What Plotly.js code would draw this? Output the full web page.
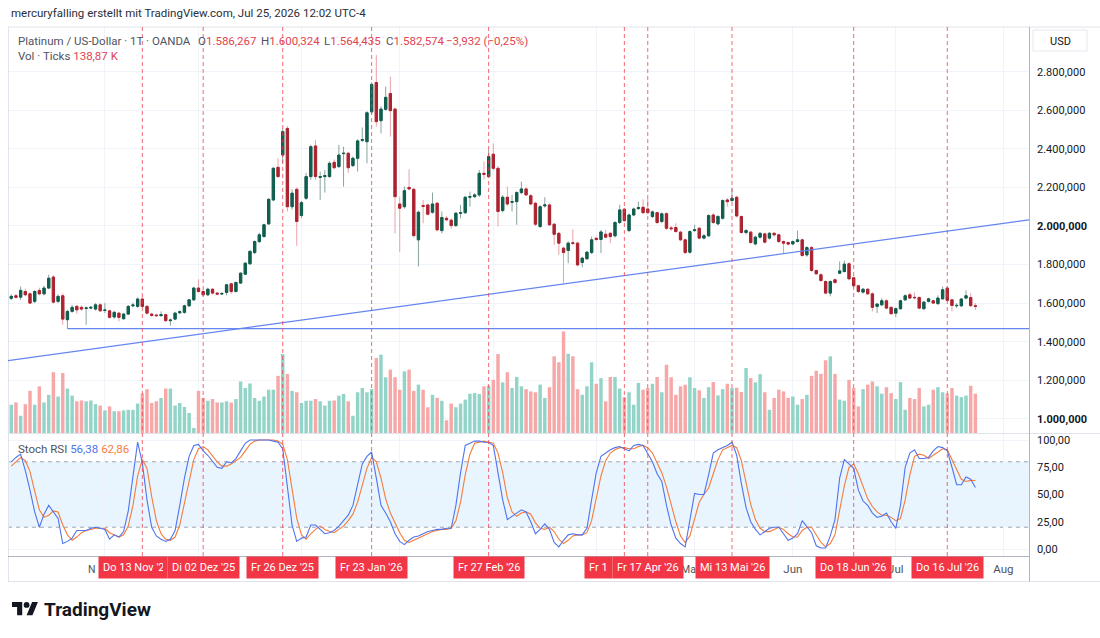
<!DOCTYPE html>
<html>
<head>
<meta charset="utf-8">
<script src="https://cdn.plot.ly/plotly-3.0.1.min.js"></script>
<style>
  html, body { margin: 0; padding: 0; background: #ffffff; }
  #chart { width: 1100px; height: 638px; }
</style>
</head>
<body>
<div id="chart"></div>
<script>
// Platinum / US-Dollar, daily candles (OANDA), Oct 2025 – Jul 2026
const firstSession = '2025-10-06';
const marketHolidays = ['2025-12-25', '2026-01-01', '2026-04-03'];

const openPx = [
  1625,1638,1631,1660,1648,1609,1666,1648,1678,1735,
  1609,1638,1514,1557,1583,1578,1572,1574,1569,1591,
  1562,1560,1528,1548,1519,1543,1586,1583,1621,1583,
  1543,1538,1535,1540,1509,1517,1550,1552,1586,1617,
  1678,1660,1643,1672,1652,1647,1655,1700,1660,1704,
  1750,1804,1862,1919,1945,2011,2135,2304,2368,2506,
  2100,2190,2054,2144,2256,2415,2252,2256,2256,2330,
  2308,2375,2377,2313,2351,2444,2437,2592,2744,2546,
  2605,2687,2606,2114,2100,2200,2190,1928,2106,2109,
  2071,2118,1976,2040,2030,2002,2066,2069,2149,2152,
  2161,2273,2256,2372,2299,2080,2149,2123,2126,2173,
  2192,2157,2118,1997,2104,2109,2009,1962,1885,1873,
  1913,1911,1811,1830,1862,1936,1930,1957,1962,1949,
  2018,2087,1976,2057,2090,2097,2088,2049,2069,2023,
  2064,1990,1992,1968,1928,1864,1976,1988,1937,1949,
  2057,2011,2040,2135,2132,2149,2049,1966,1968,1907,
  1942,1959,1937,1962,1954,1919,1914,1907,1919,1928,
  1850,1888,1769,1747,1712,1652,1721,1755,1764,1804,
  1731,1690,1657,1672,1648,1583,1591,1612,1578,1548,
  1571,1617,1643,1630,1629,1571,1609,1612,1597,1622,
  1678,1617,1586,1586,1626,1629,1586.267
];
const highPx = [
  1645,1648,1686,1675,1655,1668,1680,1690,1747,1745,
  1645,1650,1565,1590,1591,1588,1582,1585,1600,1600,
  1600,1566,1560,1555,1550,1590,1602,1630,1634,1590,
  1550,1545,1557,1545,1520,1555,1562,1592,1622,1684,
  1724,1668,1680,1678,1658,1656,1700,1705,1712,1760,
  1812,1875,1925,1965,2012,2145,2305,2351,2505,2518,
  2190,2200,2130,2275,2420,2446,2282,2290,2335,2345,
  2420,2411,2385,2360,2450,2511,2595,2745,2886,2620,
  2722,2774,2615,2152,2204,2294,2198,2080,2135,2115,
  2173,2125,2075,2050,2038,2072,2109,2155,2178,2170,
  2290,2334,2394,2428,2310,2160,2204,2161,2180,2230,
  2200,2165,2125,2108,2149,2118,2015,1968,1892,1920,
  1983,1918,1840,1870,1945,1945,1978,1980,1970,2025,
  2110,2095,2065,2095,2126,2138,2140,2080,2075,2070,
  2070,2000,2014,1975,1935,1978,2006,1995,1958,2060,
  2065,2057,2138,2145,2195,2157,2055,1985,1975,1950,
  1968,1965,1968,1968,1960,1925,1920,1925,1976,1935,
  1895,1895,1775,1755,1718,1718,1728,1816,1821,1812,
  1738,1695,1678,1678,1655,1600,1625,1620,1583,1578,
  1618,1645,1655,1655,1635,1610,1628,1618,1640,1686,
  1685,1622,1600,1626,1666,1652,1600.324
];
const lowPx = [
  1615,1622,1617,1635,1595,1600,1640,1640,1672,1598,
  1600,1488,1468,1550,1545,1560,1488,1568,1562,1555,
  1548,1520,1520,1505,1515,1538,1578,1576,1578,1540,
  1530,1528,1530,1502,1483,1512,1543,1545,1580,1612,
  1652,1635,1636,1645,1640,1642,1640,1648,1655,1700,
  1745,1798,1855,1912,1940,2005,2128,2250,2325,2075,
  2085,1897,2040,2135,2240,2240,2135,2173,2250,2295,
  2300,2204,2275,2305,2282,2435,2325,2580,2515,2480,
  2598,2463,1962,1864,2090,2185,1940,1790,2014,2055,
  2064,1972,1962,2025,1985,1995,2040,2062,2100,2145,
  2150,2240,2250,2290,1997,2070,2105,2075,2006,2165,
  2155,2108,2000,1990,2095,2000,1902,1850,1704,1807,
  1902,1790,1785,1825,1855,1920,1859,1935,1911,1940,
  2010,2020,1968,2050,2085,2062,2060,2040,2010,2015,
  1980,1975,1965,1922,1855,1856,1970,1930,1930,1943,
  2010,2004,2033,2100,2125,2045,1960,1955,1908,1900,
  1935,1910,1930,1945,1912,1859,1900,1900,1915,1840,
  1840,1762,1745,1710,1645,1635,1700,1750,1758,1718,
  1683,1652,1650,1643,1557,1548,1585,1567,1540,1527,
  1565,1610,1620,1620,1568,1565,1603,1595,1592,1618,
  1608,1557,1574,1580,1620,1582,1564.435
];
const closePx = [
  1635,1630,1666,1643,1600,1660,1648,1678,1729,1605,
  1635,1517,1557,1578,1565,1569,1575,1578,1591,1560,
  1564,1526,1552,1526,1543,1583,1590,1621,1583,1548,
  1536,1535,1540,1509,1512,1548,1555,1586,1617,1678,
  1660,1643,1672,1652,1647,1650,1695,1660,1707,1755,
  1807,1868,1919,1954,2006,2138,2299,2256,2489,2100,
  2170,2023,2121,2256,2411,2256,2256,2261,2325,2302,
  2368,2377,2302,2351,2441,2448,2587,2734,2541,2606,
  2667,2598,2152,2092,2183,2192,1950,2071,2102,2061,
  2114,1980,2044,2032,2002,2066,2069,2149,2152,2161,
  2273,2268,2360,2299,2075,2149,2114,2126,2173,2192,
  2161,2114,2009,2100,2109,2006,1957,1911,1862,1911,
  1909,1798,1833,1864,1928,1930,1969,1942,1945,2018,
  2083,2028,2057,2088,2095,2069,2069,2073,2018,2063,
  1988,1986,1971,1928,1862,1971,1980,1937,1949,2054,
  2018,2049,2132,2126,2144,2052,1966,1976,1914,1942,
  1962,1916,1962,1954,1919,1911,1906,1919,1928,1847,
  1888,1769,1752,1717,1652,1712,1707,1767,1802,1726,
  1690,1660,1672,1648,1578,1595,1612,1574,1545,1571,
  1612,1638,1626,1628,1574,1605,1622,1600,1626,1669,
  1614,1588,1588,1621,1638,1586.506,1582.574
];
// tick volume, thousands
const volumeK = [
  100,108,61,102,149,100,165,108,135,215,
  129,212,157,132,112,115,112,115,102,97,
  80,94,77,77,80,82,82,104,139,155,
  106,112,124,157,157,97,106,92,71,18,
  149,124,114,120,108,108,112,108,120,182,
  159,175,124,114,129,153,153,202,279,209,
  149,144,106,114,114,120,112,97,114,115,
  132,138,112,61,144,159,144,155,265,277,
  197,224,197,153,218,224,149,171,153,91,
  135,124,114,45,104,91,104,118,139,141,
  138,165,167,188,279,179,215,159,198,165,
  155,147,144,171,124,162,271,250,359,280,
  271,155,135,165,250,174,194,112,198,198,
  157,127,144,100,177,153,159,174,198,144,
  241,197,135,165,171,197,159,151,124,162,
  180,133,155,174,159,160,145,230,194,179,
  208,144,82,124,153,147,124,129,100,120,
  135,202,220,209,257,271,209,118,114,188,
  159,94,155,171,182,165,139,162,141,120,
  180,82,124,120,159,94,100,153,162,144,
  139,159,132,127,132,167,138.87
];
const stochK = [
  80,84,87,72,54,34,20,32,40,34,
  28,5,7,10,17,17,17,19,20,19,
  18,9,13,11,16,35,68,98,79,45,
  20,12,9,7,9,17,40,65,85,95,
  96,90,86,80,75,74,80,79,83,90,
  97,100,100,100,100,100,99,98,92,55,
  22,7,10,11,22,22,18,14,15,17,
  21,26,31,40,58,78,85,89,65,40,
  33,25,14,7,4,8,11,12,14,16,
  17,18,18,19,19,40,70,95,97,99,
  99,98,98,95,70,45,27,30,33,36,
  34,25,14,18,23,18,6,2,8,13,
  14,13,13,19,45,70,85,88,91,93,
  94,92,90,95,96,95,88,80,69,62,
  40,22,10,5,2,28,51,50,50,68,
  88,91,93,95,98,86,60,38,25,18,
  13,16,19,20,20,14,8,10,14,26,
  20,15,3,1,1,12,27,65,82,78,
  74,54,44,40,33,29,30,33,25,19,
  40,75,88,91,83,83,84,90,94,93,
  90,75,59,59,66,64,56.38
];
const stochD = [
  76,80,84,81,71,53,36,29,31,35,
  34,22,13,8,11,15,17,18,19,19,
  19,15,13,11,13,21,40,67,82,74,
  48,26,14,9,8,11,22,41,63,82,
  92,94,91,85,80,76,76,78,81,84,
  90,96,99,100,100,100,100,99,96,82,
  56,28,13,9,14,18,21,18,16,15,
  18,21,26,32,43,59,74,84,80,65,
  46,33,24,15,8,6,8,10,12,14,
  16,17,18,18,19,26,43,68,87,97,
  98,99,98,97,88,70,47,34,30,33,
  34,32,24,19,18,20,16,9,5,8,
  12,13,13,15,26,45,67,81,88,91,
  93,93,92,92,94,95,93,88,79,70,
  57,41,25,12,6,12,27,43,50,56,
  69,82,91,93,95,93,81,61,41,27,
  19,16,16,18,20,18,14,11,11,17,
  20,20,13,6,2,5,13,35,58,75,
  78,69,57,46,39,34,31,31,29,26,
  28,45,68,85,87,86,83,86,89,92,
  91,82,72,64,62,63,62.86
];

// marked sessions (dashed verticals + date flags on the time axis)
const markerDates = ['2025-11-13','2025-12-02','2025-12-26','2026-01-23','2026-02-27',
                     '2026-04-10','2026-04-17','2026-05-13','2026-06-18','2026-07-16'];
// flags that sit partly under their right-hand neighbour keep only the visible part
const markerLabels = ["Do 13 Nov '2","Di 02 Dez '25","Fr 26 Dez '25","Fr 23 Jan '26","Fr 27 Feb '26",
                      "Fr 1","Fr 17 Apr '26","Mi 13 Mai '26","Do 18 Jun '26","Do 16 Jul '26"];
const tuckedFlags = { 0: 60, 5: 19 };   // flag index -> text width in px

// month starts on the time scale; months mostly hidden behind flags show only their visible part
const monthTicks = ['2025-11-03','2025-12-01','2026-01-02','2026-02-02','2026-03-02',
                    '2026-04-01','2026-05-01','2026-06-01','2026-07-01','2026-08-03'];
const monthNames = ['','','','','','','','Jun','Jul','Aug'];
const peekingMonths = [['N', 97], ['Ma', 696.5]];   // text, right edge (px)

const priceTicks = [1000,1200,1400,1600,1800,2000,2200,2400,2600,2800];
const stochTicks = [0,25,50,75,100];

// drawn lines: horizontal support and rising trend line
const supportLine = { from: '2025-10-22', price: 1468 };
const risingLine = [['2025-10-03 07:12', 1302], ['2026-08-10 11:02', 2032]];

const xRange = ['2025-10-03 07:12', '2026-08-10 11:02'];

// ---------------------------------------------------------------
function tradingDays(start, n, holidays) {
  const out = [];
  const d = new Date(start + 'T00:00:00Z');
  while (out.length < n) {
    const wd = d.getUTCDay();
    const iso = d.toISOString().slice(0, 10);
    if (wd !== 0 && wd !== 6 && holidays.indexOf(iso) < 0) out.push(iso);
    d.setUTCDate(d.getUTCDate() + 1);
  }
  return out;
}
function fmtDE(v, dec) {
  const neg = v < 0;
  const parts = Math.abs(v).toFixed(dec).split('.');
  const ip = parts[0].replace(/\B(?=(\d{3})+(?!\d))/g, '.');
  return (neg ? '\u2212' : '') + ip + (parts[1] ? ',' + parts[1] : '');
}

const n = openPx.length;
const dates = tradingDays(firstSession, n, marketHolidays);
const bodyTop = openPx.map((o, i) => Math.max(o, closePx[i]));
const bodyBot = openPx.map((o, i) => Math.min(o, closePx[i]));
const volColors = closePx.map((c, i) => c >= openPx[i] ? '#93d4c8' : '#f6a8a8');

// page geometry (pixels) -> paper coordinates
const PL = 8, PR = 1029, PT = 27, PB = 556;
const fx = x => (x - PL) / (PR - PL);
const fy = y => (PB - y) / (PB - PT);
const priceDomain = [fy(433), 1];
const stochDomain = [0, fy(434)];

const UP = '#0f5e4e', DOWN = '#ab2330';
const UP_WICK = '#8aa39d', DOWN_WICK = '#eba1a8';
const RED_TXT = '#df4450';
const FONT = 'Roboto, "Open Sans", sans-serif';

const rb = [{ bounds: ['sat', 'mon'] }, { values: marketHolidays }];

const traces = [
  { type: 'candlestick', x: dates, open: openPx, high: highPx, low: lowPx, close: closePx,
    xaxis: 'x', yaxis: 'y', whiskerwidth: 0, hoverinfo: 'skip',
    increasing: { line: { color: UP_WICK, width: 1 }, fillcolor: 'rgba(0,0,0,0)' },
    decreasing: { line: { color: DOWN_WICK, width: 1 }, fillcolor: 'rgba(0,0,0,0)' } },
  { type: 'candlestick', x: dates, open: openPx, high: bodyTop, low: bodyBot, close: closePx,
    xaxis: 'x', yaxis: 'y', whiskerwidth: 0, hoverinfo: 'skip',
    increasing: { line: { color: UP, width: 1 }, fillcolor: UP },
    decreasing: { line: { color: DOWN, width: 1 }, fillcolor: DOWN } },
  { type: 'bar', x: dates, y: volumeK, xaxis: 'x', yaxis: 'y2',
    marker: { color: volColors, line: { width: 0 } }, hoverinfo: 'skip' },
  { type: 'scatter', mode: 'lines', x: dates, y: stochD, xaxis: 'x2', yaxis: 'y3',
    line: { color: '#f57c3c', width: 1.1 }, hoverinfo: 'skip' },
  { type: 'scatter', mode: 'lines', x: dates, y: stochK, xaxis: 'x2', yaxis: 'y3',
    line: { color: '#4f74ee', width: 1.1 }, hoverinfo: 'skip' }
];

const shapes = [];
// stoch band and levels
shapes.push({ type: 'rect', xref: 'paper', yref: 'y3', x0: 0, x1: 1, y0: 20, y1: 80,
  fillcolor: 'rgba(33,150,243,0.10)', line: { width: 0 }, layer: 'below' });
[80, 50, 20].forEach(v => shapes.push({ type: 'line', xref: 'paper', yref: 'y3', x0: 0, x1: 1, y0: v, y1: v,
  line: { color: '#a3a6af', width: 1, dash: '4px,4px' }, layer: 'below' }));
// frame and pane borders
const frameLine = (x0, y0, x1, y1, c) => shapes.push({ type: 'line', xref: 'paper', yref: 'paper',
  x0: fx(x0), y0: fy(y0), x1: fx(x1), y1: fy(y1), line: { color: c, width: 1 } });
frameLine(8, 27, 1100, 27, '#e0e3eb');
frameLine(8.5, 27, 8.5, 581, '#e0e3eb');
frameLine(8, 433.5, 1100, 433.5, '#e0e3eb');
frameLine(8, 556.5, 1029, 556.5, '#b2b5be');
frameLine(8, 581.5, 1100, 581.5, '#e0e3eb');
frameLine(1029.5, 27, 1029.5, 581.5, '#b2b5be');
// drawn lines
shapes.push({ type: 'line', xref: 'x', yref: 'y', x0: supportLine.from, x1: xRange[1],
  y0: supportLine.price, y1: supportLine.price, line: { color: '#6585f0', width: 1.2 } });
shapes.push({ type: 'line', xref: 'x', yref: 'y', x0: risingLine[0][0], y0: risingLine[0][1],
  x1: risingLine[1][0], y1: risingLine[1][1], line: { color: '#6585f0', width: 1.2 } });
// marked sessions
markerDates.forEach(d => shapes.push({ type: 'line', xref: 'x', yref: 'paper', x0: d, x1: d, y0: 0, y1: 1,
  line: { color: 'rgba(242,54,69,0.75)', width: 1, dash: '4px,3px' } }));
// currency box
shapes.push({ type: 'rect', xref: 'paper', yref: 'paper', x0: fx(1033), x1: fx(1087), y0: fy(30), y1: fy(51),
  line: { color: '#e6e8ee', width: 1 }, fillcolor: '#ffffff' });
// TradingView mark
const LX = 12, LY = 602, LS = 0.73;
const lp = (x, y) => fx(LX + LS * x).toFixed(5) + ',' + fy(LY + LS * (y - 4)).toFixed(5);
shapes.push({ type: 'path', xref: 'paper', yref: 'paper', line: { width: 0 }, fillcolor: '#131722',
  path: 'M' + lp(14, 22) + 'L' + lp(7, 22) + 'L' + lp(7, 11) + 'L' + lp(0, 11) + 'L' + lp(0, 4) + 'L' + lp(14, 4) + 'Z' });
shapes.push({ type: 'path', xref: 'paper', yref: 'paper', line: { width: 0 }, fillcolor: '#131722',
  path: 'M' + lp(28, 22) + 'L' + lp(20, 22) + 'L' + lp(27.5, 4) + 'L' + lp(35.5, 4) + 'Z' });
shapes.push({ type: 'circle', xref: 'paper', yref: 'paper', line: { width: 0 }, fillcolor: '#131722',
  x0: fx(LX + LS * 16), x1: fx(LX + LS * 24), y0: fy(LY + LS * 8), y1: fy(LY + LS * 0) });

const annotations = [];
const txt = (x, y, text, opts) => annotations.push(Object.assign({ xref: 'paper', yref: 'paper',
  x: fx(x), y: fy(y), text: text, showarrow: false, xanchor: 'left', yanchor: 'middle',
  font: { family: FONT, size: 11.5, color: '#131722' } }, opts || {}));

const last = n - 1;
const chg = closePx[last] - closePx[last - 1];
const chgPct = chg / closePx[last - 1] * 100;
const red = s => '<span style="color:' + RED_TXT + '">' + s + '</span>';
const grey = { family: FONT, size: 11.5, color: '#50535e' };

txt(9, 13, 'mercuryfalling erstellt mit TradingView.com, Jul 25, 2026 12:02 UTC-4', { font: { family: FONT, size: 11.5, color: '#2a2e39' } });
txt(16, 41, 'Platinum / US-Dollar · 1T · OANDA', { font: grey });
txt(196, 41, 'O' + red(fmtDE(openPx[last], 3)), { font: grey });
txt(259, 41, 'H' + red(fmtDE(highPx[last], 3)), { font: grey });
txt(322, 41, 'L' + red(fmtDE(lowPx[last], 3)), { font: grey });
txt(384, 41, 'C' + red(fmtDE(closePx[last], 3)), { font: grey });
txt(444, 41, red(fmtDE(chg, 3) + ' (' + fmtDE(chgPct, 2) + '%)'));
txt(16, 56, 'Vol · Ticks ' + red(fmtDE(volumeK[last], 2) + ' K'), { font: grey });
txt(16, 449, 'Stoch RSI <span style="color:#4f74ee">' + fmtDE(stochK[last], 2) + '</span> <span style="color:#f57c3c">' + fmtDE(stochD[last], 2) + '</span>',
  { font: grey });
txt(1060, 41, 'USD', { xanchor: 'center', font: { family: FONT, size: 11, color: '#131722' } });
txt(42, 609, '<b>TradingView</b>', { font: { family: FONT, size: 19, color: '#131722' } });
peekingMonths.forEach(m => txt(m[1], 569, m[0], { xanchor: 'right', borderpad: 0,
  font: { family: FONT, size: 10.5, color: '#50535e' } }));

markerDates.forEach((d, k) => {
  const flag = { xref: 'x2', yref: 'paper', x: d, y: fy(567),
    text: markerLabels[k], showarrow: false, xanchor: 'center', yanchor: 'middle',
    bgcolor: '#f23645', borderpad: 4, font: { family: FONT, size: 11, color: '#ffffff' } };
  if (tuckedFlags[k] !== undefined) {
    // ends where the next flag begins
    flag.x = markerDates[k + 1];
    flag.xanchor = 'right';
    flag.xshift = -35;
    flag.width = tuckedFlags[k];
    flag.align = 'left';
  }
  annotations.push(flag);
});

const priceText = priceTicks.map(v => (v % 1000 === 0 ? '<b>' + fmtDE(v, 3) + '</b>' : fmtDE(v, 3)));
const stochText = stochTicks.map(v => fmtDE(v, 2));

const xCommon = { type: 'date', range: xRange, rangebreaks: rb, tickvals: monthTicks, ticktext: monthNames,
  showgrid: true, gridcolor: '#f0f3fa', gridwidth: 1, zeroline: false, showline: false, ticks: '',
  rangeslider: { visible: false } };

const layout = {
  width: 1100, height: 638,
  margin: { l: PL, r: 1100 - PR, t: PT, b: 638 - PB },
  paper_bgcolor: '#ffffff', plot_bgcolor: 'rgba(0,0,0,0)',
  showlegend: false, hovermode: false, bargap: 0.26,
  font: { family: FONT, size: 11, color: '#131722' },
  xaxis: Object.assign({}, xCommon, { anchor: 'y', showticklabels: false }),
  xaxis2: Object.assign({}, xCommon, { anchor: 'y3', showticklabels: true,
    tickfont: { family: FONT, size: 11.5, color: '#50535e' }, ticklabelstandoff: 4 }),
  yaxis: { domain: priceDomain, anchor: 'x', range: [926.4, 3031.8], side: 'right',
    tickvals: priceTicks, ticktext: priceText, showgrid: true, gridcolor: '#f0f3fa',
    zeroline: false, showline: false, ticks: '', ticklabelstandoff: 7,
    tickfont: { family: FONT, size: 11, color: '#131722' } },
  yaxis2: { overlaying: 'y', anchor: 'x', range: [0, 1435], visible: false },
  yaxis3: { domain: stochDomain, anchor: 'x2', range: [-6.4, 105.5], side: 'right',
    tickvals: stochTicks, ticktext: stochText, showgrid: true, gridcolor: '#f0f3fa',
    zeroline: false, showline: false, ticks: '', ticklabelstandoff: 7,
    tickfont: { family: FONT, size: 11, color: '#131722' } },
  shapes: shapes,
  annotations: annotations
};

Plotly.newPlot('chart', traces, layout, { staticPlot: true, displayModeBar: false });
</script>
</body>
</html>
